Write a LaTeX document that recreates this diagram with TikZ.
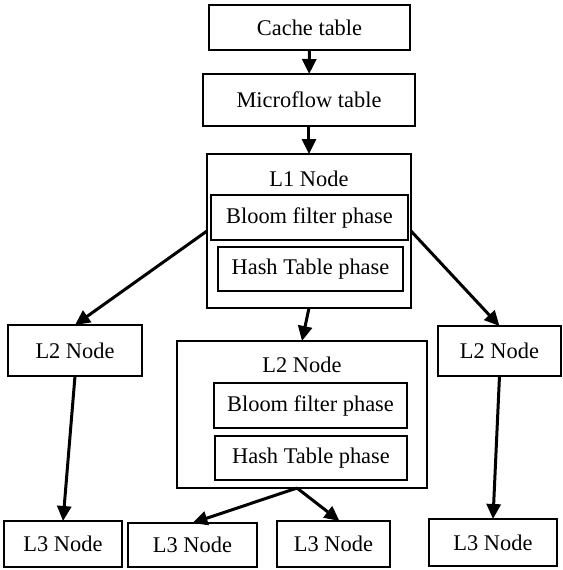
\documentclass[tikz,border=0pt]{standalone}
\usepackage{fontspec}
\setmainfont{Liberation Serif}
\usetikzlibrary{arrows.meta}
\begin{document}
\begin{tikzpicture}[x=0.5pt,y=-0.5pt,
    box/.style={draw, line width=1pt, inner sep=0pt, outer sep=0pt, font=\fontsize{11.2}{13}\selectfont},
    phase/.style={box, line width=1.3pt},
    arr/.style={line width=1.5pt, -{Triangle[length=7.5pt,width=7pt]}}]
    \useasboundingbox (0,0) rectangle (563,570);
    % nodes
    \node[box, minimum width=100.5pt, minimum height=22.5pt] (cache) at (309.5,27.5) {Cache table};
    \node[box, minimum width=106pt, minimum height=26pt] (micro) at (309,100) {Microflow table};
    \node[box, minimum width=102pt, minimum height=77pt,
          label={[anchor=center, yshift=-12.5pt, font=\fontsize{11.2}{13}\selectfont]north:L1 Node}] (l1) at (309,231) {};
    \node[phase, minimum width=98.5pt, minimum height=22.5pt] (bloomA) at (309.5,217.5) {Bloom filter phase};
    \node[phase, minimum width=92.5pt, minimum height=22pt] (hashA) at (310.5,269) {Hash Table phase};
    \node[box, minimum width=67pt, minimum height=25.5pt] (l2a) at (75,350.5) {L2 Node};
    \node[box, minimum width=125pt, minimum height=73.5pt,
          label={[anchor=center, yshift=-12pt, font=\fontsize{11.2}{13}\selectfont]north:L2 Node}] (l2b) at (302,414.5) {};
    \node[phase, minimum width=96.5pt, minimum height=22.5pt] (bloomB) at (310.5,405.5) {Bloom filter phase};
    \node[phase, minimum width=96pt, minimum height=22pt] (hashB) at (311,458) {Hash Table phase};
    \node[box, minimum width=61.5pt, minimum height=25pt] (l2c) at (499.5,351) {L2 Node};
    \node[box, minimum width=59pt, minimum height=23pt] (l3a) at (63,544) {L3 Node};
    \node[box, minimum width=64.5pt, minimum height=22pt] (l3b) at (192.5,545) {L3 Node};
    \node[box, minimum width=56.5pt, minimum height=23pt] (l3c) at (333.5,544) {L3 Node};
    \node[box, minimum width=64pt, minimum height=23.5pt] (l3d) at (493,542.5) {L3 Node};
    % edges
    \draw[arr] (cache) -- (micro);
    \draw[arr] (micro) -- (l1);
    \draw[arr] (l1.west) -- (l2a.north);
    \draw[arr] (l1.south) -- (l2b.north);
    \draw[arr] (l1.east) -- (l2c.north);
    \draw[arr] (l2a.south) -- (l3a.north);
    \draw[arr] ([xshift=-2.5pt]l2b.south) -- (l3b.north);
    \draw[arr] ([xshift=-2.5pt]l2b.south) -- ([xshift=3pt]l3c.north);
    \draw[arr] (l2c.south) -- (l3d.north);
\end{tikzpicture}
\end{document}
